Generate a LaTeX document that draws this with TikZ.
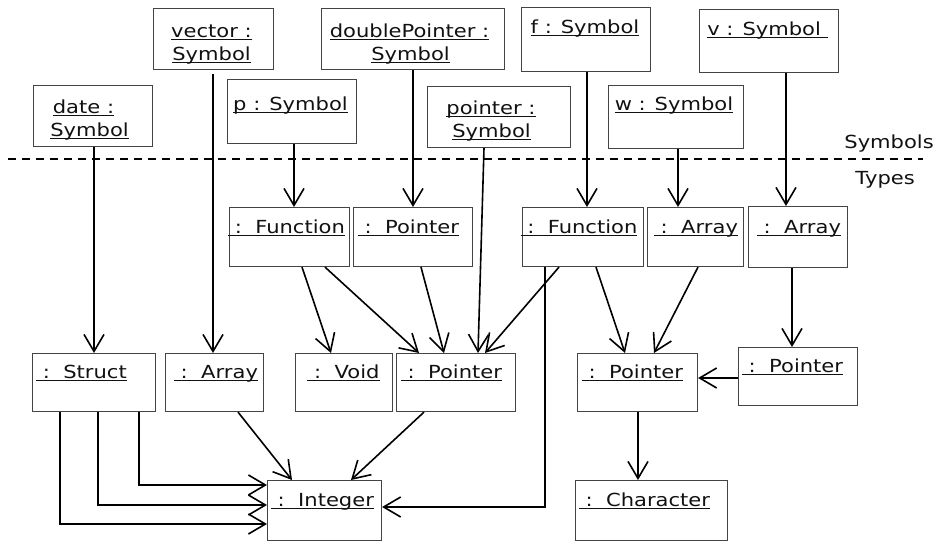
\documentclass[tikz,border=0pt]{standalone}
\usepackage{fontspec}
\setmainfont{DejaVu Sans}[FakeStretch=1.17]
\usetikzlibrary{arrows.meta,calc}
\definecolor{boxgray}{HTML}{444444}
\definecolor{inkc}{HTML}{111111}
\newcommand\myul[1]{\setbox0\hbox{#1}\rlap{\rule[-3pt]{\wd0}{0.9pt}}\box0}
\newcommand\mybox[5]{\node[box, minimum width={(#4-#2)*1pt}, minimum height={(#5-#3)*1pt}] (#1) at (#2,#3) {};}
\newcommand\mytxt[4]{\node[txt] (#1) at (#2,#3) {\myul{#4}};}
\tikzset{
  box/.style={draw=boxgray, line width=1.1pt, inner sep=0pt, anchor=north west},
  txt/.style={anchor=base, inner sep=0pt, text=inkc, font=\fontsize{18}{21}\selectfont},
  lbl/.style={anchor=base east, inner sep=0pt, text=inkc, font=\fontsize{18}{21}\selectfont},
  arr/.style={draw=black, line width=1.6pt, -{Straight Barb[length=17pt,width=20pt,line width=1.6pt]}},
}
\begin{document}
\begin{tikzpicture}[x=1pt,y=-1pt]
\useasboundingbox (0,0) rectangle (938,541);
% separator
\draw[line width=1.3pt, dash pattern=on 8pt off 6pt] (8,159) coordinate (sepL) -- (923,159) coordinate (sepR);
\node[lbl] (lsym) at (934,148) {Symbols};
\node[lbl] (ltyp) at (915,184) {Types};
% symbol boxes
\mybox{dateS}{33}{85}{152}{146}
\mytxt{t1}{83.5}{113}{date :}
\mytxt{t2}{89.5}{136}{Symbol}
\mybox{vecS}{153}{8}{273}{69}
\mytxt{t3}{211.5}{37}{vector :}
\mytxt{t4}{211.5}{60}{Symbol}
\mybox{dblS}{321}{8}{504}{69}
\mytxt{t5}{409.5}{37}{doublePointer :}
\mytxt{t6}{410.5}{60}{Symbol}
\mybox{pS}{227}{79}{356}{143}
\mytxt{t7}{290.5}{110}{p : Symbol}
\mybox{ptrS}{427}{86}{570}{147}
\mytxt{t8}{491}{114}{pointer :}
\mytxt{t9}{491.5}{137}{Symbol}
\mybox{fS}{521}{7}{650}{71}
\mytxt{t10}{585}{33}{f : Symbol}
\mybox{wS}{608}{85}{743}{148}
\mytxt{t11}{674}{110}{w : Symbol}
\mybox{vS}{699}{9}{838}{72}
\mytxt{t12}{767.5}{35}{v : Symbol\ }
% type boxes row 1
\mybox{lFun}{229}{207}{349}{266}
\mytxt{t13}{286.5}{233}{\ :\ \ Function}
\mybox{tPtr}{353}{207}{472}{266}
\mytxt{t14}{408.5}{233}{\ :\ \ Pointer}
\mybox{rFun}{522}{207}{643}{266}
\mytxt{t15}{579}{233}{\ :\ \ Function}
\mybox{wArr}{647}{207}{743}{266}
\mytxt{t16}{696}{233}{\ :\ \ Array}
\mybox{vArr}{748}{206}{847}{267}
\mytxt{t17}{799}{233}{\ :\ \ Array}
% row 2
\mybox{struct}{32}{353}{155}{411}
\mytxt{t18}{81.5}{378}{\ :\ \ Struct}
\mybox{arr}{165}{353}{263}{411}
\mytxt{t19}{216}{378}{\ :\ \ Array}
\mybox{void}{295}{353}{392}{411}
\mytxt{t20}{343.5}{378}{\ :\ \ Void}
\mybox{mPtr}{396}{353}{515}{411}
\mytxt{t21}{451.5}{378}{\ :\ \ Pointer}
\mybox{rPtr}{577}{353}{697}{411}
\mytxt{t22}{632.5}{378}{\ :\ \ Pointer}
\mybox{frPtr}{738}{347}{857}{405}
\mytxt{t23}{792.5}{372}{\ :\ \ Pointer}
% row 3
\mybox{int}{267}{480}{381}{540}
\mytxt{t24}{322.5}{506}{\ :\ \ Integer}
\mybox{chr}{575}{480}{727}{540}
\mytxt{t25}{644.5}{506}{\ :\ \ Character}
% connectors
\draw[arr] ($(dateS.south west)+(61,0)$) -- ($(struct.north west)+(62,0)$);
\draw[arr] ($(vecS.south west)+(60,4)$) -- ($(arr.north west)+(48,0)$);
\draw[arr] ($(pS.south west)+(67,0)$) -- ($(lFun.north west)+(65,0)$);
\draw[arr] ($(dblS.south west)+(92,0)$) -- ($(tPtr.north west)+(60,0)$);
\draw[arr] ($(ptrS.south west)+(57,0)$) -- ($(mPtr.north west)+(82,0)$);
\draw[arr] ($(fS.south west)+(66,0)$) -- ($(rFun.north west)+(65,0)$);
\draw[arr] ($(wS.south west)+(70,0)$) -- ($(wArr.north west)+(31,0)$);
\draw[arr] ($(vS.south west)+(87,0)$) -- ($(vArr.north west)+(38,0)$);
\draw[arr] ($(lFun.south west)+(73,0)$) -- ($(void.north west)+(36,0)$);
\draw[arr] ($(lFun.south west)+(96,0)$) -- ($(mPtr.north west)+(23,0)$);
\draw[arr] ($(tPtr.south west)+(68,0)$) -- ($(mPtr.north west)+(48,0)$);
\draw[arr] ($(rFun.south west)+(37,0)$) -- ($(mPtr.north west)+(89,0)$);
\draw[arr] ($(rFun.south west)+(74,0)$) -- ($(rPtr.north west)+(48,0)$);
\draw[arr] ($(wArr.south west)+(51,0)$) -- ($(rPtr.north west)+(77,0)$);
\draw[arr] ($(vArr.south west)+(44,0)$) -- ($(frPtr.north west)+(54,0)$);
\draw[arr] ($(frPtr.north west)+(0,31)$) -- ($(rPtr.north east)+(0,25)$);
\draw[arr] ($(rPtr.south west)+(61,0)$) -- ($(chr.north west)+(63,0)$);
\draw[arr] ($(arr.south west)+(73,0)$) -- ($(int.north west)+(25,0)$);
\draw[arr] ($(mPtr.south west)+(28,0)$) -- ($(int.north west)+(84,0)$);
\draw[arr] ($(struct.south west)+(28,0)$) |- ($(int.north west)+(0,44)$);
\draw[arr] ($(struct.south west)+(66,0)$) |- ($(int.north west)+(0,25)$);
\draw[arr] ($(struct.south west)+(107,0)$) |- ($(int.north west)+(0,5)$);
\draw[arr] ($(rFun.south west)+(23,0)$) |- ($(int.north east)+(0,27)$);
\end{tikzpicture}
\end{document}
